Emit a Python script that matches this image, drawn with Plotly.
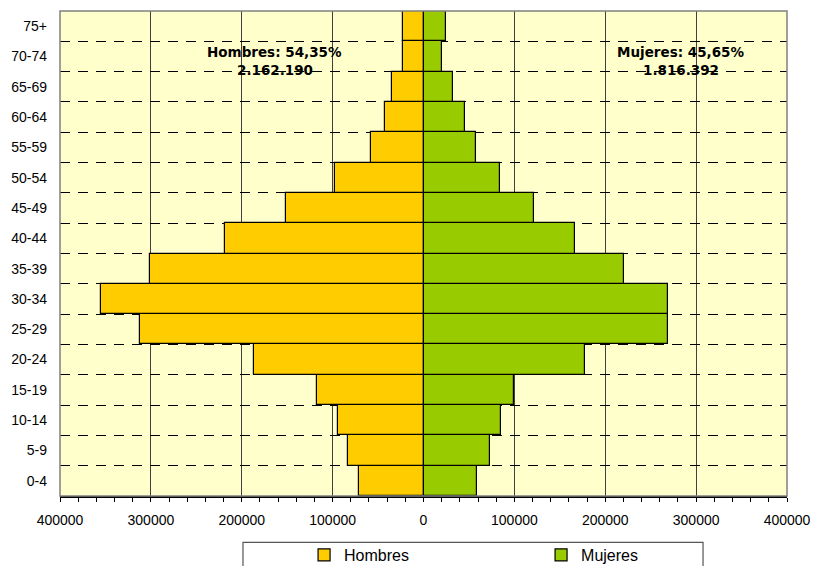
import plotly.graph_objects as go

grupos = ["0-4", "5-9", "10-14", "15-19", "20-24", "25-29", "30-34", "35-39",
          "40-44", "45-49", "50-54", "55-59", "60-64", "65-69", "70-74", "75+"]
hombres = [70600, 83200, 94100, 116900, 186900, 312000, 354600, 301300,
           218400, 151600, 97400, 58100, 42400, 35000, 22900, 22900]
mujeres = [59400, 73700, 85700, 99900, 177700, 269400, 269400, 220300,
           167000, 121600, 84500, 58100, 45700, 32800, 20700, 24400]
tick_vals = [-400000, -300000, -200000, -100000, 0, 100000, 200000, 300000, 400000]
tick_text = ["400000", "300000", "200000", "100000", "0", "100000", "200000", "300000", "400000"]

fig = go.Figure()
fig.add_trace(go.Bar(y=grupos, x=[-v for v in hombres], orientation="h", name="Hombres",
                     marker=dict(color="#FFCC00", line=dict(color="black", width=1.2))))
fig.add_trace(go.Bar(y=grupos, x=mujeres, orientation="h", name="Mujeres",
                     marker=dict(color="#99CC00", line=dict(color="black", width=1.2))))

ann_font = dict(family="DejaVu Sans, sans-serif", size=13.5, color="#000000")

fig.update_layout(
    width=813, height=566,
    margin=dict(l=60, r=26, t=11, b=70, autoexpand=False),
    paper_bgcolor="white", plot_bgcolor="#FFFFCC",
    barmode="relative", bargap=0,
    font=dict(family="Liberation Sans, Arial, sans-serif", size=14, color="black"),
    xaxis=dict(range=[-400000, 400000], tickvals=tick_vals, ticktext=tick_text,
               showgrid=True, gridcolor="#404040", gridwidth=1,
               zeroline=True, zerolinecolor="black", zerolinewidth=1,
               showline=True, linecolor="black", linewidth=1.5,
               ticks="outside", ticklen=4, tickcolor="black", tickwidth=1,
               minor=dict(dtick=20000, ticks="outside", ticklen=4, tickcolor="black", showgrid=False),
               ticklabelstandoff=6, automargin=False,
               tickfont=dict(size=14), fixedrange=True),
    yaxis=dict(categoryorder="array", categoryarray=grupos,
               tickson="boundaries", showgrid=True, gridcolor="black", gridwidth=1,
               griddash="10px,8px", ticks="", ticklabelstandoff=12, automargin=False,
               showline=False, tickfont=dict(size=14), fixedrange=True),
    legend=dict(orientation="h", xref="container", yref="container",
                x=0.374, xanchor="left", y=0.0495, yanchor="top",
                bgcolor="rgba(0,0,0,0)", borderwidth=0, entrywidth=192, entrywidthmode="pixels",
                font=dict(size=16, family="Liberation Sans, Arial, sans-serif")),
    shapes=[
        dict(type="rect", xref="paper", yref="paper", x0=0, x1=1, y0=0, y1=1,
             line=dict(color="#808080", width=1.5), layer="above"),
        dict(type="rect", xref="paper", yref="paper", x0=0.2517, x1=0.8845, y0=-0.0955, y1=-0.2,
             line=dict(color="#555555", width=1.2), fillcolor="white", layer="below"),
    ],
    annotations=[
        dict(text="<b>Hombres: 54,35%</b>", x=-163500, xref="x", y=0.916, yref="paper",
             yanchor="middle", showarrow=False, font=ann_font),
        dict(text="<b>2.162.190</b>", x=-163500, xref="x", y=0.8777, yref="paper",
             yanchor="middle", showarrow=False, font=ann_font),
        dict(text="<b>Mujeres: 45,65%</b>", x=283000, xref="x", y=0.916, yref="paper",
             yanchor="middle", showarrow=False, font=ann_font),
        dict(text="<b>1.816.392</b>", x=283000, xref="x", y=0.8777, yref="paper",
             yanchor="middle", showarrow=False, font=ann_font),
    ],
)

fig.write_html("out.html", config={"displayModeBar": False},
               post_script="document.body.style.margin='0';document.body.style.overflow='hidden';")
